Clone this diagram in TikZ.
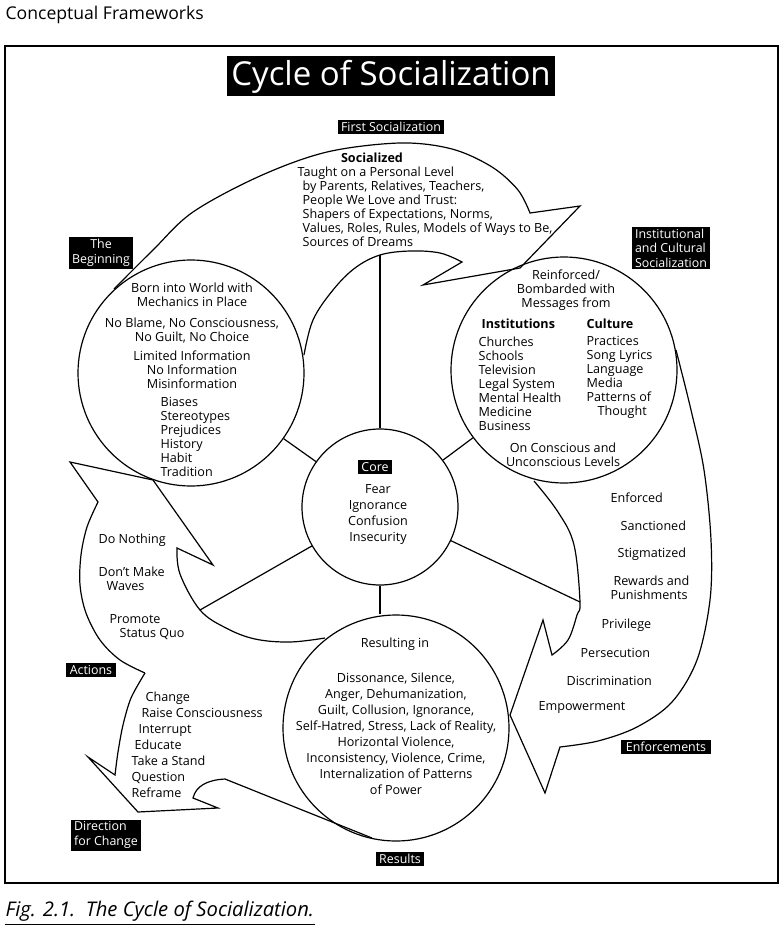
\documentclass[tikz,border=0pt]{standalone}
\usepackage{fontspec}
\setmainfont{Open Sans}
\begin{document}
\begin{tikzpicture}[x=1pt,y=-1pt,line width=1.2pt,line join=miter,
  lbl/.style={fill=black,text=white,inner xsep=3.5pt,inner ysep=2.2pt,font=\fontsize{12.4}{14.5}\selectfont},
  body/.style={inner sep=0pt,font=\fontsize{12.6}{14}\selectfont},
  bodyw/.style={inner sep=0pt,font=\fontsize{12.6}{16}\selectfont},
  bodyb/.style={inner sep=0pt,font=\bfseries\fontsize{12.6}{14}\selectfont},
  bcirc/.style={circle,draw,minimum size=226pt,inner sep=0pt},
  arr/.style={draw,line width=1.2pt}]
\useasboundingbox (0,0) rectangle (780,926);
% header, frame, caption
\node[anchor=north west,inner sep=0pt,font=\fontsize{17.6}{19}\selectfont] (hdr) at (5,6) {Conceptual Frameworks};
\draw[line width=1.3pt] (5,46) rectangle (778,883);
\node[anchor=base west,inner sep=0pt,font=\itshape\fontsize{20.2}{22}\selectfont] (cap) at (5,916) {Fig. 2.1.\ \ The Cycle of Socialization.};
\draw[line width=1pt] ([yshift=-8pt]cap.base west) -- ([yshift=-8pt]cap.base east);
\node[fill=black,text=white,inner xsep=4pt,inner ysep=4pt,text height=25pt,text depth=7pt,font=\fontsize{33}{36}\selectfont] (title) at (391,76) {Cycle of Socialization};
% circles
\node[bcirc] (begin) at (191,373) {};
\node[bcirc] (inst) at (564,370) {};
\node[bcirc] (res) at (396,728) {};
\node[circle,draw,minimum size=156pt,inner sep=0pt] (core) at (380,507) {};
% arrow edge points used by spokes
\coordinate (tin) at (380,255);
\coordinate (rin) at (580,602);
\coordinate (ain) at (200,610);
% top arrow
\draw[arr] plot[smooth,tension=0.55] coordinates {(114,289) (153,250) (193,212) (260,176) (327,152) (400,143) (452,149) (492,167) (518,190) (530,213)}
  -- (580,206) -- (520,268) -- (423,285) -- (462,262)
  -- plot[smooth,tension=0.6] coordinates {(462,262) (440,253) (410,251) (tin) (355,268) (333,290) (313,320) (304,355)};
% right arrow
\draw[arr] plot[smooth,tension=0.55] coordinates {(676,350) (691,410) (704,470) (711,540) (710,600) (697,660) (672,702) (637,727) (598,741) (560,747)}
  -- (545,793) -- (510,715) -- (543,620) -- (552,655)
  -- plot[smooth,tension=0.6] coordinates {(552,655) (568,640) (577,615) (rin) (574,545) (558,512) (534,481)};
% actions arrow
\draw[arr] plot[smooth,tension=0.55] coordinates {(145,673) (120,660) (100,640) (86,613) (80,585) (81,555) (87,527) (98,502)}
  -- (70,462) -- (153,480) -- (213,565) -- (177,548)
  -- plot[smooth,tension=0.6] coordinates {(177,548) (180,574) (ain) (226,628) (255,639) (290,642) (325,638)};
% direction for change arrow
\draw[arr] plot[smooth,tension=0.5] coordinates {(145,673) (131,698) (123,725) (118,752) (115,775)}
  -- (88,757) -- (138,812) -- (218,808) -- (193,798) .. controls (196,786) and (207,780) .. (225,779) -- (372,838);
% spokes
\draw (core) -- (tin);
\draw (core) -- (begin);
\draw (core) -- (inst);
\draw (core) -- (rin);
\draw (core) -- (ain);
\draw (core.south) -- (core.south |- res.north);
% labels
\node[lbl] (lfirst) at (391,127) {First Socialization};
\node[lbl,align=center] (lbeg) at (101,253) {The\\Beginning};
\node[lbl,align=left] (linst) at (671,248) {Institutional\\and Cultural\\Socialization};
\node[lbl] (lcore) at (375,467) {Core};
\node[lbl] (lact) at (91,670) {Actions};
\node[lbl,inner xsep=5pt] (lenf) at (666,747) {Enforcements};
\node[lbl,align=left] (ldir) at (106,835) {Direction\\for Change};
\node[lbl] (lres) at (400,859) {Results};
% top arrow text
\node[bodyb] (socd) at (372,158) {Socialized};
\node[body,align=left,anchor=north west] (taught) at (297,166) {Taught on a Personal Level\\\hspace*{5pt}by Parents, Relatives, Teachers,\\\hspace*{5pt}People We Love and Trust:\\\hspace*{5pt}Shapers of Expectations, Norms,\\\hspace*{5pt}Values, Roles, Rules, Models of Ways to Be,\\\hspace*{5pt}Sources of Dreams};
% left circle text
\node[body,align=center,anchor=north] (lc1) at (192,282) {Born into World with\\Mechanics in Place};
\node[body,align=center,anchor=north] (lc2) at (192,317) {No Blame, No Consciousness,\\No Guilt, No Choice};
\node[body,align=center,anchor=north] (lc3) at (192,350) {Limited Information\\No Information\\Misinformation};
\node[body,align=left,anchor=north west] (lc4) at (160,397) {Biases\\Stereotypes\\Prejudices\\History\\Habit\\Tradition};
% right circle text
\node[body,align=center,anchor=north] (rc1) at (566,269) {Reinforced/\\Bombarded with\\Messages from};
\node[bodyb,anchor=north west] (rc2) at (481,318) {Institutions};
\node[bodyb,anchor=north west] (rc3) at (586,318) {Culture};
\node[body,align=left,anchor=north west] (rc4) at (478,336) {Churches\\Schools\\Television\\Legal System\\Mental Health\\Medicine\\Business};
\node[body,align=left,anchor=north west] (rc5) at (586,336) {Practices\\Song Lyrics\\Language\\Media\\Patterns of\\\hspace*{11pt}Thought};
\node[body,align=center,anchor=north] (rc6) at (563,442) {On Conscious and\\Unconscious Levels};
% core text
\node[bodyw,align=center,anchor=north] (coretext) at (378,484) {Fear\\Ignorance\\Confusion\\Insecurity};
% enforcement text
\node[body,anchor=west] (e1) at (610,498) {Enforced};
\node[body,anchor=west] (e2) at (620,526) {Sanctioned};
\node[body,anchor=west] (e3) at (617,554) {Stigmatized};
\node[body,align=left,anchor=north west] (e4) at (610,575) {\hspace*{3pt}Rewards and\\Punishments};
\node[body,anchor=west] (e5) at (601,625) {Privilege};
\node[body,anchor=west] (e6) at (580,653) {Persecution};
\node[body,anchor=west] (e7) at (566,681) {Discrimination};
\node[body,anchor=west] (e8) at (538,708) {Empowerment};
% results text
\node[body] (r1) at (395,644) {Resulting in};
\node[bodyw,align=center,anchor=north] (r2) at (396,672) {Dissonance, Silence,\\Anger, Dehumanization,\\Guilt, Collusion, Ignorance,\\Self-Hatred, Stress, Lack of Reality,\\Horizontal Violence,\\Inconsistency, Violence, Crime,\\Internalization of Patterns\\of Power};
% actions text
\node[body,anchor=west] (a1) at (98,540) {Do Nothing};
\node[body,align=left,anchor=north west] (a2) at (98,566) {Don't Make\\\hspace*{8pt}Waves};
\node[body,align=left,anchor=north west] (a3) at (109,614) {Promote\\\hspace*{10pt}Status Quo};
% direction text
\node[bodyw,align=left,anchor=north west] (d1) at (131,691) {\hspace*{14pt}Change\\\hspace*{10pt}Raise Consciousness\\\hspace*{7pt}Interrupt\\\hspace*{3pt}Educate\\Take a Stand\\Question\\Reframe};
\end{tikzpicture}
\end{document}
